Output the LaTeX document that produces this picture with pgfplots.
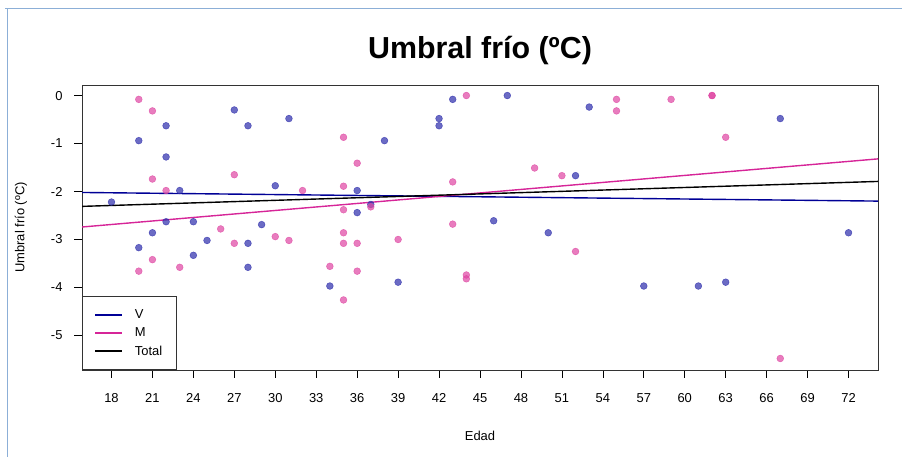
\documentclass[border=0pt]{standalone}
\usepackage{pgfplots}
\pgfplotsset{compat=1.18}
\usepackage{fontspec}
\setmainfont{Liberation Sans}
\definecolor{vline}{RGB}{0,0,150}
\definecolor{mline}{RGB}{214,37,152}
\definecolor{vpt}{RGB}{44,44,171}
\definecolor{mpt}{RGB}{222,69,162}
\definecolor{frame}{RGB}{140,175,215}
\begin{document}
\begin{tikzpicture}[x=1bp,y=1bp]
\path[use as bounding box] (0,0) rectangle (902,457);
\draw[frame, line width=1.5bp] (5,448.5) -- (902,448.5);
\draw[frame, line width=1.5bp] (7.3,448.5) -- (7.3,0);
\node[font=\fontsize{30.5}{35}\selectfont\bfseries] at (480,406) {Umbral frío (ºC)};
\node[rotate=90, font=\fontsize{13}{15}\selectfont] at (21,229.5) {Umbral frío (ºC)};
\node[font=\fontsize{13}{15}\selectfont] at (480,21) {Edad};
\begin{axis}[
  at={(82bp,87bp)}, anchor=south west,
  scale only axis, width=796bp, height=285bp,
  xmin=15.84, xmax=74.16, ymin=-5.72, ymax=0.22,
  xtick={18,21,...,72}, ytick={-5,-4,-3,-2,-1,0},
  xtick pos=bottom, ytick pos=left,
  tick align=outside, major tick length=8bp,
  tick style={black, line width=0.6bp},
  axis line style={black!80, line width=0.9bp},
  /pgf/number format/assume math mode=true,
  ticklabel style={font=\fontsize{13}{15}\selectfont},
  xticklabel style={yshift=-12bp},
  yticklabel style={xshift=-8bp},
  clip=true,
  legend style={at={(0,0)}, anchor=south west, draw=black!80, line width=0.9bp,
    font=\fontsize{13}{15}\selectfont, inner xsep=12bp, inner ysep=11bp, row sep=3.5bp},
  legend cell align=left,
  legend image code/.code={\draw[#1, line width=1.4bp] (0bp,0bp) -- (27bp,0bp); \path (37bp,0bp);},
]
\addplot[only marks, mark=*, mark size=3.4bp, forget plot,
  mark options={fill=vpt, draw=vpt, line width=0.5bp, opacity=0.7}] table {
x y
18 -2.22
20 -0.94
20 -3.17
21 -2.86
22 -0.63
22 -1.28
22 -2.63
23 -1.98
24 -2.63
24 -3.33
25 -3.02
27 -0.30
28 -0.63
28 -3.08
28 -3.58
29 -2.69
30 -1.88
31 -0.48
34 -3.97
36 -1.98
36 -2.44
37 -2.27
38 -0.94
39 -3.89
42 -0.48
42 -0.63
43 -0.08
46 -2.61
47 0.00
50 -2.86
52 -1.67
53 -0.24
57 -3.97
61 -3.97
63 -3.89
67 -0.48
72 -2.86
};
\addplot[only marks, mark=*, mark size=3.4bp, forget plot,
  mark options={fill=mpt, draw=mpt, line width=0.5bp, opacity=0.7}] table {
x y
20 -0.08
20 -3.66
21 -0.32
21 -1.74
21 -3.42
22 -1.98
23 -3.58
26 -2.78
27 -1.65
27 -3.08
30 -2.94
31 -3.02
32 -1.98
34 -3.56
35 -0.87
35 -1.89
35 -2.38
35 -2.86
35 -3.08
35 -4.26
36 -1.41
36 -3.08
36 -3.66
37 -2.32
39 -3.00
43 -1.80
43 -2.68
44 0.00
44 -3.74
44 -3.82
49 -1.51
51 -1.67
52 -3.25
55 -0.08
55 -0.32
59 -0.08
62 0.00
62 0.00
63 -0.87
67 -5.48
};
\addplot[vline, line width=1.4bp] coordinates {(15.84,-2.02) (74.16,-2.20)};
\addlegendentry{V}
\addplot[mline, line width=1.4bp] coordinates {(15.84,-2.74) (74.16,-1.32)};
\addlegendentry{M}
\addplot[black, line width=1.4bp] coordinates {(15.84,-2.31) (74.16,-1.79)};
\addlegendentry{Total}
\end{axis}
\end{tikzpicture}
\end{document}
